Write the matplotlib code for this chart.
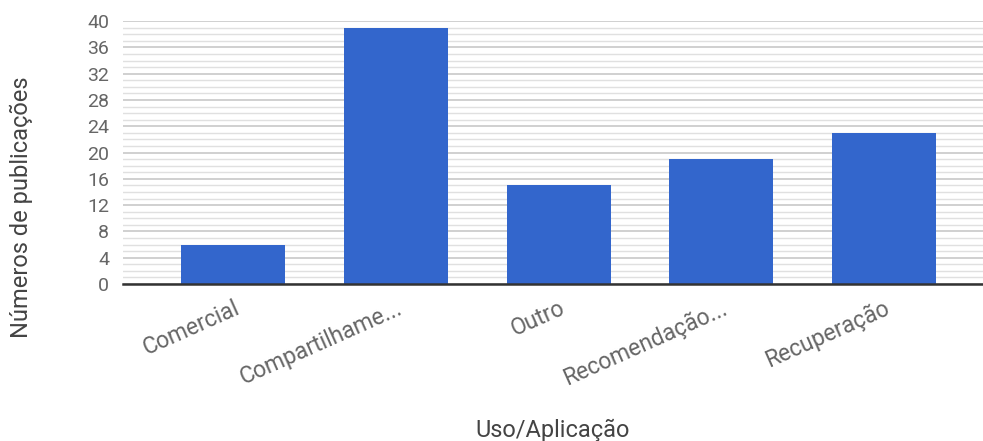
import numpy as np
import matplotlib
matplotlib.use("Agg")
import matplotlib.pyplot as plt
from matplotlib.ticker import MultipleLocator

# Données
categorias = ["Comercial", "Compartilhame...", "Outro", "Recomendação...", "Recuperação"]
publicacoes = [6, 39, 15, 19, 23]
y_ticks = list(range(0, 41, 4))

plt.rcParams['font.family'] = ['Roboto', 'DejaVu Sans']

fig = plt.figure(figsize=(9.83, 4.41), dpi=100)
ax = fig.add_axes([0.125, 0.356, 0.875, 0.596])

x = np.arange(len(categorias))
ax.bar(x, publicacoes, width=0.64, color="#3366CC", zorder=3)

# Grille : lignes majeures tous les 4, mineures tous les 1
ax.set_ylim(0, 40)
ax.set_xlim(-0.68, 4.61)
ax.set_yticks(y_ticks)
ax.yaxis.set_minor_locator(MultipleLocator(1))
ax.grid(axis='y', which='major', color="#c8c8c8", linewidth=1.2, zorder=0)
ax.grid(axis='y', which='minor', color="#e0e0e0", linewidth=1.0, zorder=0)

for s in ["top", "right", "left"]:
    ax.spines[s].set_visible(False)
ax.spines["bottom"].set_color("#333333")
ax.spines["bottom"].set_linewidth(1.8)
ax.spines["bottom"].set_zorder(4)

ax.tick_params(axis='both', which='both', length=0, labelcolor="#666666")
ax.tick_params(axis='y', labelsize=14, pad=10)
ax.set_xticks(x)
ax.set_xticklabels(categorias, rotation=24, ha='right', rotation_mode='anchor')
ax.tick_params(axis='x', labelsize=16.5, pad=9)

ax.set_ylabel("Números de publicações", fontsize=17, color="#444444")
ax.yaxis.set_label_coords(-0.104, 0.293)
ax.set_xlabel("Uso/Aplicação", fontsize=17, color="#444444", labelpad=21)

fig.savefig("out.png", dpi=100)
